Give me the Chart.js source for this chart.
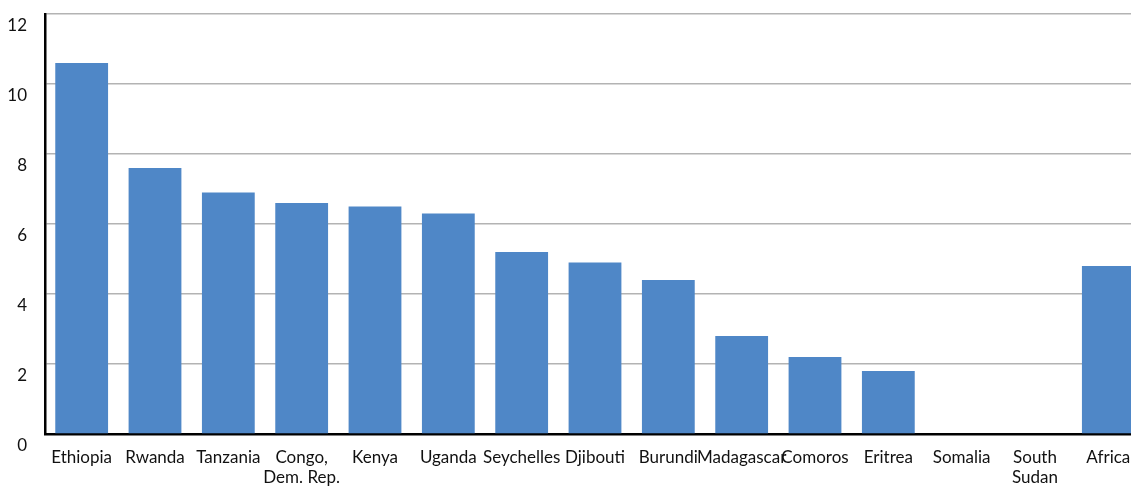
<!DOCTYPE html>
<html>
<head>
<meta charset="utf-8">
<script src="https://cdn.jsdelivr.net/npm/chart.js@4"></script>
<style>
  html, body { margin: 0; padding: 0; background: #fff; overflow: hidden; }
  #grafico { display: block; }
</style>
</head>
<body>
<canvas id="grafico" width="1150" height="488"></canvas>
<script>
var paises = [
    "Ethiopia", "Rwanda", "Tanzania", ["Congo,", "Dem. Rep."], "Kenya", "Uganda",
    "Seychelles", "Djibouti", "Burundi", "Madagascar", "Comoros", "Eritrea",
    "Somalia", ["South", "Sudan"], "Africa"
];
var valores = [10.6, 7.6, 6.9, 6.6, 6.5, 6.3, 5.2, 4.9, 4.4, 2.8, 2.2, 1.8, 0, 0, 4.8];
var ticksY = [0, 2, 4, 6, 8, 10, 12];

var fonte = "Lato, 'Open Sans', sans-serif";

new Chart(document.getElementById("grafico"), {
    type: "bar",
    data: {
        labels: paises,
        datasets: [{
            data: valores,
            backgroundColor: "#4f87c7",
            borderWidth: 0,
            barPercentage: 0.72,
            categoryPercentage: 1
        }]
    },
    options: {
        responsive: false,
        animation: false,
        layout: { padding: { top: 14, right: 5, left: 0, bottom: 0 } },
        plugins: {
            legend: { display: false },
            tooltip: { enabled: false }
        },
        scales: {
            x: {
                grid: { display: false, drawTicks: false },
                border: { color: "#000", width: 2.5 },
                ticks: {
                    color: "#111",
                    padding: 13,
                    maxRotation: 0,
                    autoSkip: false,
                    font: { family: fonte, size: 17, lineHeight: 1.2 }
                },
                afterFit: function (eixo) {
                    eixo.height = 54;
                    eixo.paddingLeft = 0;
                    eixo.paddingRight = 0;
                }
            },
            y: {
                min: 0,
                max: 12,
                afterBuildTicks: function (eixo) {
                    eixo.ticks = ticksY.map(function (v) { return { value: v }; });
                },
                grid: { color: "#b3b3b3", lineWidth: 1.5, drawTicks: false },
                border: { color: "#000", width: 2.5 },
                ticks: {
                    color: "#111",
                    padding: 18,
                    labelOffset: 12,
                    font: { family: fonte, size: 17 }
                },
                afterFit: function (eixo) {
                    eixo.width = 45;
                    // os rótulos descem abaixo da linha, não precisa reservar espaço em cima
                    eixo.paddingTop = 0;
                    eixo.paddingBottom = 0;
                }
            }
        }
    }
});
</script>
</body>
</html>
